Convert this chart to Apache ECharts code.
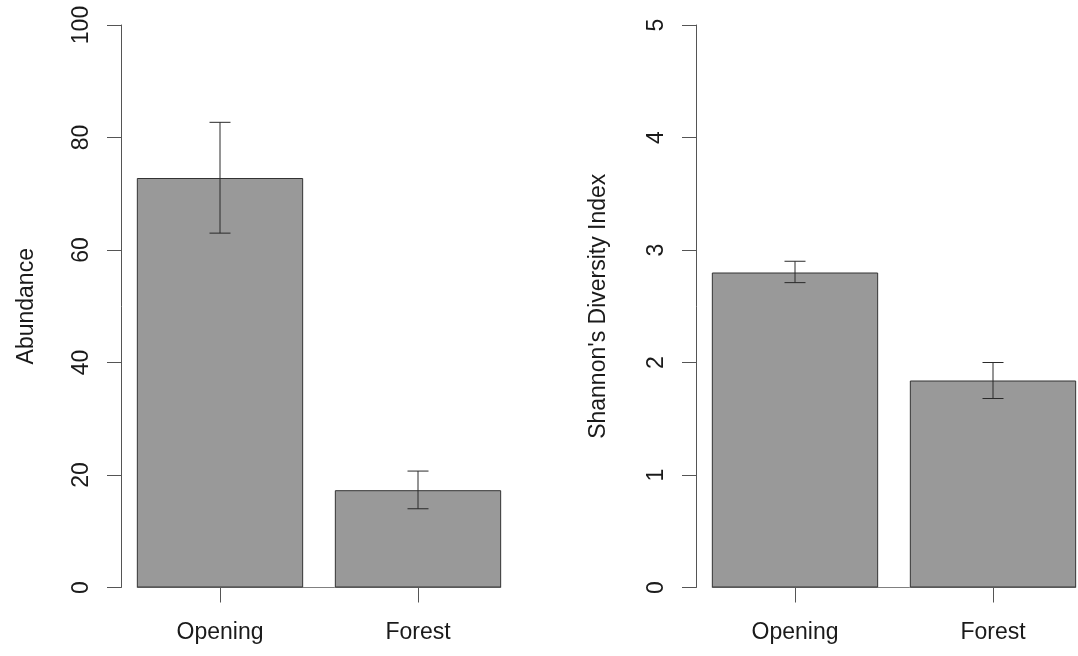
<!DOCTYPE html>
<html>
<head>
<meta charset="utf-8">
<script src="https://cdn.jsdelivr.net/npm/echarts@6/dist/echarts.min.js"></script>
<style>
  html, body { margin: 0; padding: 0; background: #fff; overflow: hidden; }
  /* 右图在 R 原图中被裁掉一截，所以画布比窗口宽一点 */
  #chart { width: 1100px; height: 656px; }
</style>
</head>
<body>
<div id="chart"></div>
<script>
// 两个面板共用的类别
var categories = ['Opening', 'Forest'];

// 左图：丰度 (均值 与 误差线上下限)
var abundance = [72.8, 17.3];
var abundanceLow = [63.0, 14.0];
var abundanceHigh = [82.7, 20.7];
var abundanceTicks = [0, 20, 40, 60, 80, 100];

// 右图：Shannon 多样性指数
var shannon = [2.80, 1.84];
var shannonLow = [2.71, 1.68];
var shannonHigh = [2.90, 2.00];
var shannonTicks = [0, 1, 2, 3, 4, 5];

var FONT = 'Liberation Sans, Arial, Helvetica, sans-serif';
var BAR_RATIO = 0.84;

function errData(low, high) {
    var out = [];
    for (var i = 0; i < low.length; i++) out.push([i, low[i], high[i]]);
    return out;
}

// 误差线：竖线加上下两个短横
function renderErr(params, api) {
    var lo = api.coord([api.value(0), api.value(1)]);
    var hi = api.coord([api.value(0), api.value(2)]);
    var cap = 10.5;
    var st = { stroke: '#2a2a2a', lineWidth: 1 };
    return {
        type: 'group',
        children: [
            { type: 'line', shape: { x1: lo[0], y1: lo[1], x2: hi[0], y2: hi[1] }, style: st },
            { type: 'line', shape: { x1: hi[0] - cap, y1: hi[1], x2: hi[0] + cap, y2: hi[1] }, style: st },
            { type: 'line', shape: { x1: lo[0] - cap, y1: lo[1], x2: lo[0] + cap, y2: lo[1] }, style: st }
        ]
    };
}

// 底线只画在柱子范围内 (R barplot 的 axis(1) 线)
function renderBase(params, api) {
    var c = api.coord([api.value(0), 0]);
    var band = api.size([1, 0])[0];
    var bw = band * BAR_RATIO;
    var n = params.dataInsideLength;
    var x1 = c[0] - bw / 2;
    var x2 = c[0] + bw / 2 + (params.dataIndexInside < n - 1 ? band - bw : 0);
    return {
        type: 'line',
        shape: { x1: x1, y1: c[1], x2: x2, y2: c[1] },
        style: { stroke: '#808080', lineWidth: 1 }
    };
}

function xAxisOf(gridIndex) {
    return {
        type: 'category',
        gridIndex: gridIndex,
        data: categories,
        boundaryGap: true,
        axisLine: { show: false },
        axisTick: { show: true, alignWithLabel: true, length: 15, lineStyle: { color: '#555', width: 1 } },
        axisLabel: { margin: 34, fontSize: 23, fontFamily: FONT, color: '#1a1a1a' },
        splitLine: { show: false }
    };
}

function yAxisOf(gridIndex, ticks, name, gap) {
    return {
        type: 'value',
        gridIndex: gridIndex,
        min: ticks[0],
        max: ticks[ticks.length - 1],
        interval: ticks[1] - ticks[0],
        name: name,
        nameLocation: 'middle',
        nameRotate: 90,
        nameGap: gap,
        nameTextStyle: { fontSize: 23, fontFamily: FONT, color: '#1a1a1a' },
        axisLine: { show: true, lineStyle: { color: '#555', width: 1 } },
        axisTick: { show: true, length: 14, lineStyle: { color: '#555', width: 1 } },
        axisLabel: { rotate: 90, margin: 28, fontSize: 23, fontFamily: FONT, color: '#1a1a1a' },
        splitLine: { show: false }
    };
}

function barSeries(idx, values) {
    return {
        type: 'bar',
        xAxisIndex: idx,
        yAxisIndex: idx,
        data: values,
        barWidth: (BAR_RATIO * 100) + '%',
        z: 3,
        itemStyle: { color: '#999999', borderColor: '#333333', borderWidth: 1 },
        emphasis: { disabled: true },
        animation: false
    };
}

var chart = echarts.init(document.getElementById('chart'), null, { renderer: 'canvas' });
chart.setOption({
    backgroundColor: '#ffffff',
    animation: false,
    grid: [
        { left: 121, top: 25, width: 396, height: 562.5, outerBoundsMode: 'none' },
        { left: 696, top: 25, width: 396, height: 562.5, outerBoundsMode: 'none' }
    ],
    xAxis: [xAxisOf(0), xAxisOf(1)],
    yAxis: [
        yAxisOf(0, abundanceTicks, 'Abundance', 83),
        yAxisOf(1, shannonTicks, "Shannon's Diversity Index", 86)
    ],
    series: [
        { type: 'custom', xAxisIndex: 0, yAxisIndex: 0, data: [0, 1], renderItem: renderBase, z: 1, silent: true },
        { type: 'custom', xAxisIndex: 1, yAxisIndex: 1, data: [0, 1], renderItem: renderBase, z: 1, silent: true },
        barSeries(0, abundance),
        barSeries(1, shannon),
        { type: 'custom', xAxisIndex: 0, yAxisIndex: 0, data: errData(abundanceLow, abundanceHigh), renderItem: renderErr, z: 5, silent: true },
        { type: 'custom', xAxisIndex: 1, yAxisIndex: 1, data: errData(shannonLow, shannonHigh), renderItem: renderErr, z: 5, silent: true }
    ]
});
</script>
</body>
</html>
